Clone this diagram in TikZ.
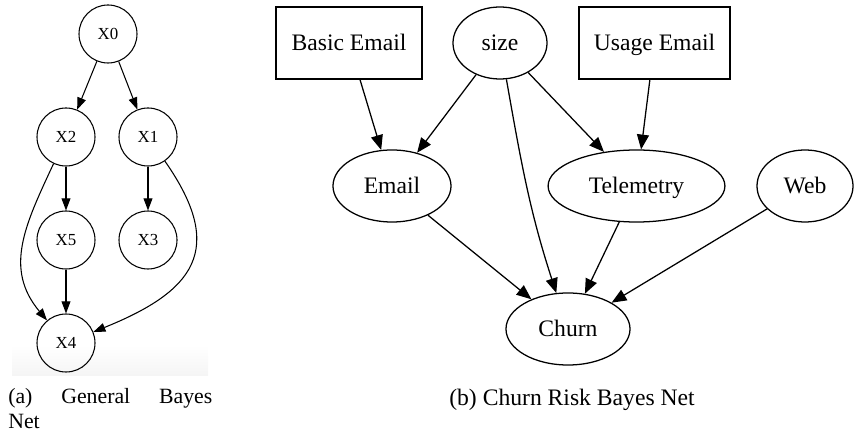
\documentclass[tikz,border=0pt]{standalone}
\usepackage{fontspec}
\setmainfont{Liberation Serif}
\usepackage{tikz}
\usetikzlibrary{arrows.meta,shapes.geometric}

\begin{document}
\begin{tikzpicture}[x=0.025cm, y=-0.025cm,
  var/.style={draw, circle, line width=0.75pt, inner sep=0pt, minimum size=1.45cm,
    font=\fontsize{12}{14}\selectfont},
  oval/.style={draw, ellipse, line width=0.9pt, inner sep=0pt, minimum height=1.8cm,
    text height=11pt, text depth=0pt, font=\fontsize{16.8}{20}\selectfont},
  inbox/.style={draw, rectangle, line width=0.9pt, inner sep=0pt, minimum height=1.8cm,
    text height=11pt, text depth=0pt, font=\fontsize{16.8}{20}\selectfont},
  link/.style={line width=0.75pt, -{Triangle[length=0.3cm, width=0.22cm]}},
  edge/.style={line width=0.9pt, -{Triangle[length=0.37cm, width=0.3cm]}}]
  \useasboundingbox (0,0) rectangle (854,438);

  % (a) general net
  \shade[top color=white, bottom color=black!4] (12,345) rectangle (208,376);
  \node[var] (x0) at (108,34) {X0};
  \node[var] (x2) at (66,137) {X2};
  \node[var] (x1) at (148,137) {X1};
  \node[var] (x5) at (66,240) {X5};
  \node[var] (x3) at (148,240) {X3};
  \node[var] (x4) at (66,343) {X4};
  \draw[link] (x0) -- (x2);
  \draw[link] (x0) -- (x1);
  \draw[link] (x2) -- (x5);
  \draw[link] (x1) -- (x3);
  \draw[link] (x5) -- (x4);
  \draw[link] (x2) to[out=-115, in=130, looseness=1.1] (x4);
  \draw[link] (x1) to[out=-55, in=22, looseness=1.5] (x4);
  \node[anchor=north west, inner sep=0pt, text width=5.1cm, align=justify,
    font=\fontsize{15.5}{17.6}\selectfont] (capa) at (8,388)
    {(a) General Bayes\linebreak Net};

  % (b) churn risk net
  \node[inbox, minimum width=3.65cm] (basic) at (349,43) {Basic Email};
  \node[oval, minimum width=2.35cm] (size) at (500,43) {size};
  \node[inbox, minimum width=3.78cm] (usage) at (654.5,43) {Usage Email};
  \node[oval, minimum width=2.95cm] (email) at (392,186) {Email};
  \node[oval, minimum width=4.42cm] (tele) at (636.5,186) {Telemetry};
  \node[oval, minimum width=2.4cm] (web) at (805,186) {Web};
  \node[oval, minimum width=3.1cm] (churn) at (568,329) {Churn};
  \draw[edge] (basic) -- (email);
  \draw[edge] (size) -- (email);
  \draw[edge] (size) -- (tele);
  \draw[edge] (usage) -- (tele);
  \draw[edge] (size) to[out=-80, in=108] (churn);
  \draw[edge] (email) -- (churn);
  \draw[edge] (tele) -- (churn);
  \draw[edge] (web) -- (churn);
  \node[anchor=base, inner sep=0pt, font=\fontsize{16.8}{20}\selectfont] (capb) at (572,405)
    {(b) Churn Risk Bayes Net};
\end{tikzpicture}
\end{document}
